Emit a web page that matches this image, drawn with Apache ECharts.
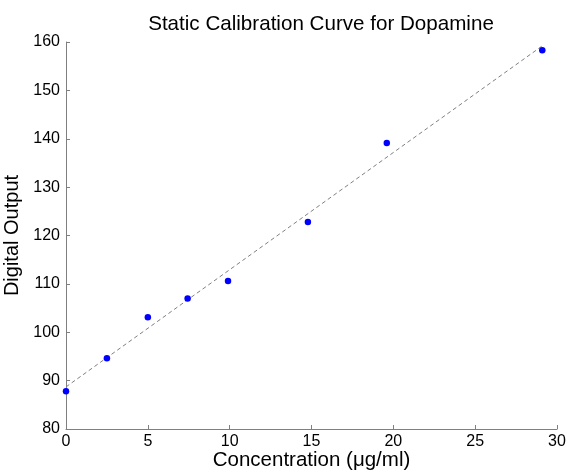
<!DOCTYPE html>
<html>
<head>
<meta charset="utf-8">
<script src="https://cdn.jsdelivr.net/npm/echarts@6/dist/echarts.min.js"></script>
<style>
  html, body { margin: 0; padding: 0; background: #fff; }
  #chart { width: 569px; height: 474px; }
</style>
</head>
<body>
<div id="chart"></div>
<script>
// measured points
var concentration = [0, 2.5, 5.0, 7.43, 9.9, 14.78, 19.6, 29.1];
var digitalOutput = [87.8, 94.6, 103.1, 107.0, 110.6, 122.8, 139.1, 158.3];
// fitted line end points
var fitX = [0, 29.1];
var fitY = [88.7, 159.2];

var xTicks = [0, 5, 10, 15, 20, 25, 30];
var yTicks = [80, 90, 100, 110, 120, 130, 140, 150, 160];

var pts = concentration.map(function (x, i) { return [x, digitalOutput[i]]; });
var fit = fitX.map(function (x, i) { return [x, fitY[i]]; });

var font = 'Liberation Sans, Arial, sans-serif';
var axisGray = '#7f7f7f';

var myChart = echarts.init(document.getElementById('chart'));
var option = {
    animation: false,
    backgroundColor: '#fff',
    title: {
        text: 'Static Calibration Curve for Dopamine',
        left: 316,
        textAlign: 'center',
        top: 9,
        textStyle: { color: '#000', fontWeight: 'normal', fontFamily: font, fontSize: 20.6 }
    },
    grid: { left: 66, right: 12, top: 42, bottom: 45, containLabel: false, outerBoundsMode: 'none' },
    xAxis: {
        type: 'value',
        min: xTicks[0],
        max: xTicks[xTicks.length - 1],
        interval: 5,
        name: 'Concentration (\u03bcg/ml)',
        nameLocation: 'middle',
        nameGap: 21,
        nameMoveOverlap: false,
        nameTextStyle: { color: '#000', fontFamily: font, fontSize: 20.5 },
        axisLine: { lineStyle: { color: axisGray, width: 1 } },
        axisTick: { inside: true, length: 4, lineStyle: { color: axisGray } },
        axisLabel: { color: '#000', fontFamily: font, fontSize: 16, margin: 5 },
        splitLine: { show: false }
    },
    yAxis: {
        type: 'value',
        min: yTicks[0],
        max: yTicks[yTicks.length - 1],
        interval: 10,
        name: 'Digital Output',
        nameLocation: 'middle',
        nameGap: 44,
        nameMoveOverlap: false,
        nameTextStyle: { color: '#000', fontFamily: font, fontSize: 20 },
        axisLine: { show: true, lineStyle: { color: axisGray, width: 1 } },
        axisTick: { show: true, inside: true, length: 4, lineStyle: { color: axisGray } },
        axisLabel: { color: '#000', fontFamily: font, fontSize: 16, margin: 6 },
        splitLine: { show: false }
    },
    series: [
        {
            type: 'line',
            data: fit,
            symbol: 'none',
            lineStyle: { color: '#808080', width: 1, type: [4, 3] },
            silent: true,
            z: 1
        },
        {
            type: 'scatter',
            data: pts,
            symbol: 'circle',
            symbolSize: 6.5,
            itemStyle: { color: '#0000ff', opacity: 1 },
            z: 2
        }
    ]
};
myChart.setOption(option);
</script>
</body>
</html>
